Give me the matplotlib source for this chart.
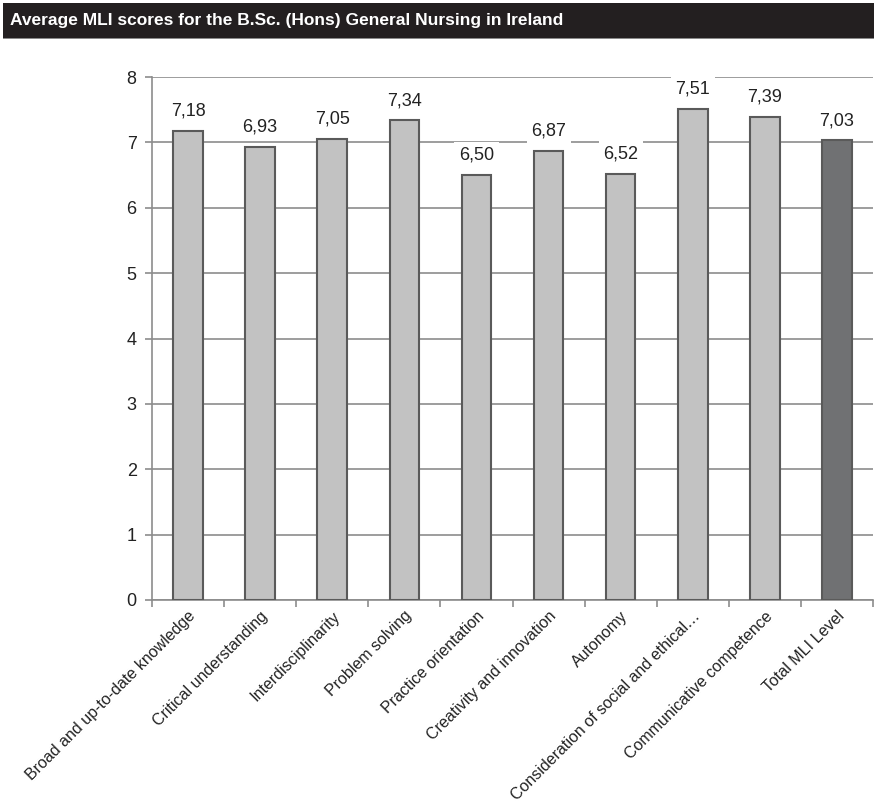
import matplotlib
matplotlib.use("Agg")
import matplotlib.pyplot as plt
from matplotlib.patches import Rectangle

categories = [
    "Broad and up-to-date knowledge",
    "Critical understanding",
    "Interdisciplinarity",
    "Problem solving",
    "Practice orientation",
    "Creativity and innovation",
    "Autonomy",
    "Consideration of social and ethical…",
    "Communicative competence",
    "Total MLI Level",
]
scores = [7.18, 6.93, 7.05, 7.34, 6.50, 6.87, 6.52, 7.51, 7.39, 7.03]
bar_colors = ["#c2c2c2"] * 9 + ["#707173"]
title = "Average MLI scores for the B.Sc. (Hons) General Nursing in Ireland"

plt.rcParams["font.family"] = ["Liberation Sans", "DejaVu Sans"]

fig = plt.figure(figsize=(8.74, 8.08), dpi=100)

# title banner across the top
fig.patches.append(Rectangle((3 / 874, 1 - 38 / 808), 871 / 874, 35 / 808,
                             transform=fig.transFigure, facecolor="#231f20",
                             edgecolor="none", zorder=0))
fig.patches.append(Rectangle((3 / 874, 1 - 39 / 808), 871 / 874, 1.5 / 808,
                             transform=fig.transFigure, facecolor="#8a8a8a",
                             edgecolor="none", zorder=0))
fig.text(10 / 874, 1 - 21 / 808, title, color="white", fontsize=12.5,
         fontweight="bold", va="center", ha="left")

ax = fig.add_axes([152 / 874, 1 - 600 / 808, 721 / 874, 523 / 808])
x = list(range(len(categories)))
ax.bar(x, scores, width=0.41, color=bar_colors, edgecolor="#5a5a5a",
       linewidth=1.5, zorder=3)

for xi, v in zip(x, scores):
    ax.annotate(f"{v:.2f}".replace(".", ","), (xi, v), xytext=(0, 8),
                textcoords="offset points", ha="center", va="bottom",
                fontsize=13, color="#222222", zorder=4,
                bbox=dict(boxstyle="square,pad=0.25", fc="white", ec="none"))

ax.set_ylim(0, 8)
ax.set_xlim(-0.5, len(categories) - 0.5)
ax.set_yticks(range(0, 9))
ax.yaxis.grid(True, color="#8c8c8c", linewidth=1.2, zorder=0)
ax.set_axisbelow(True)

ax.set_xticks([i - 0.5 for i in range(len(categories) + 1)], minor=False)
ax.set_xticklabels([])
ax.set_xticks(x, minor=True)
ax.set_xticklabels(categories, minor=True, rotation=45, ha="right",
                   rotation_mode="anchor", fontsize=11.5, color="#222222")
ax.tick_params(axis="x", which="minor", length=0, pad=6)
ax.tick_params(axis="x", which="major", length=5, color="#8c8c8c", width=1.2)
ax.tick_params(axis="y", length=5, color="#8c8c8c", width=1.2, labelsize=13,
               labelcolor="#222222", pad=6)

for side in ["top", "right"]:
    ax.spines[side].set_visible(False)
for side in ["left", "bottom"]:
    ax.spines[side].set_color("#8c8c8c")
    ax.spines[side].set_linewidth(1.2)

fig.savefig("out.png", dpi=100)
